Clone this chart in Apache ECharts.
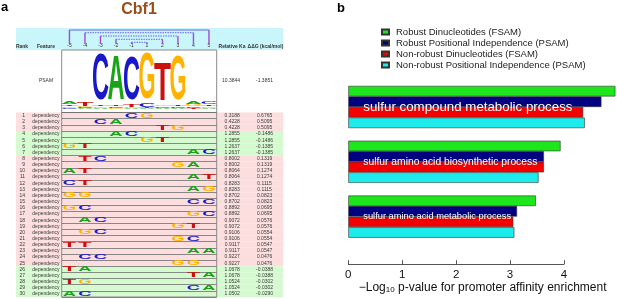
<!DOCTYPE html>
<html>
<head>
<meta charset="utf-8">
<script src="https://cdn.jsdelivr.net/npm/echarts@6/dist/echarts.min.js"></script>
<style>
html, body { margin: 0; padding: 0; background: #fff; }
#chart { width: 617px; height: 299px; }
</style>
</head>
<body>
<div id="chart"></div>
<script>
// ---------- panel a : Cbf1 model ----------
const positions = ['-5', '-4', '-3', '-2', '-1', '1', '2', '3', '4', '5'];
const ranks = ['1', '2', '3', '4', '5', '6', '7', '8', '9', '10', '11', '12', '13', '14', '15',
    '16', '17', '18', '19', '20', '21', '22', '23', '24', '25', '26', '27', '28', '29', '30'];
const featureName = 'dependency';
const dinucleotides = ['CG', 'CA', 'TG', 'AC', 'GT', 'GT', 'AC', 'TC', 'GA', 'AT', 'AT', 'CT', 'AG', 'GG', 'CC',
    'GC', 'GC', 'AC', 'GT', 'GC', 'GC', 'TT', 'AA', 'CC', 'GG', 'TA', 'TA', 'TG', 'CA', 'AC'];
const firstPosition = ['-1', '-3', '2', '-2', '1', '-5', '4', '-4', '3', '-5', '4', '-5', '4', '-5', '4',
    '-5', '4', '-4', '3', '-4', '3', '-5', '4', '-4', '3', '-5', '4', '-5', '4', '-5'];
const relativeKa = [0.3188, 0.4228, 0.4228, 1.2855, 1.2855, 1.2637, 1.2637, 0.8002, 0.8002, 0.8064,
    0.8064, 0.8283, 0.8283, 0.8702, 0.8702, 0.8892, 0.8892, 0.9072, 0.9072, 0.9106,
    0.9106, 0.9117, 0.9117, 0.9227, 0.9227, 1.0678, 1.0678, 1.0524, 1.0524, 1.0502];
const ddG = [0.6765, 0.5095, 0.5095, -0.1486, -0.1486, -0.1385, -0.1385, 0.1319, 0.1319, 0.1274,
    0.1274, 0.1115, 0.1115, 0.0823, 0.0823, 0.0695, 0.0695, 0.0576, 0.0576, 0.0554,
    0.0554, 0.0547, 0.0547, 0.0476, 0.0476, -0.0388, -0.0388, -0.0302, -0.0302, -0.0290];
const psamKa = 10.3844;
const psamDdG = -1.3851;
// PSAM logo letter heights per position
const logoA = [0.04, 0.02, 0.03, 0.76, 0.02, 0.02, 0.03, 0.03, 0.05, 0.03];
const logoC = [0.03, 0.02, 0.79, 0.03, 0.74, 0.06, 0.03, 0.03, 0.03, 0.04];
const logoG = [0.03, 0.02, 0.03, 0.02, 0.02, 0.79, 0.03, 0.77, 0.04, 0.03];
const logoT = [0.03, 0.06, 0.03, 0.03, 0.05, 0.02, 0.65, 0.03, 0.02, 0.03];
// interaction brackets above the logo
const bracketLeft = ['-5', '-4', '-3', '-2', '-1'];
const bracketRight = ['5', '4', '3', '2', '1'];
const bracketLevel = [2, 4.7, 8, 11.3, 14.3];
const bracketFoot = 16;

// ---------- panel b : enrichment ----------
const goTerms = ['sulfur compound metabolic process', 'sulfur amino acid biosynthetic process', 'sulfur amino acid metabolic process'];
const robustDinuc = [4.97, 3.95, 3.49];
const robustPos = [4.71, 3.64, 3.14];
const nonRobustDinuc = [4.37, 3.64, 3.07];
const nonRobustPos = [4.40, 3.54, 3.09];
const xTicks = [0, 1, 2, 3, 4];

const FONT = '"Liberation Sans", Arial, sans-serif';
const letterColor = { A: '#17a517', C: '#1818c8', G: '#ffb300', T: '#cc1010' };
const GLYPH_FONT = 'bold 100px "Liberation Sans"';
const mctx = document.createElement('canvas').getContext('2d');
mctx.font = GLYPH_FONT;
const glyphW = {};
'ACGT'.split('').forEach(l => { glyphW[l] = mctx.measureText(l).width; });
const CAP = 72;

function glyph(letter, cx, cy, w, h) {
    return {
        type: 'text', x: cx, y: cy,
        scaleX: w / glyphW[letter], scaleY: h / CAP,
        style: { text: letter, font: GLYPH_FONT, fill: letterColor[letter], align: 'center', verticalAlign: 'middle' },
    };
}

// dependency letters
const depData = [];
dinucleotides.forEach((d, r) => {
    const i = positions.indexOf(firstPosition[r]);
    depData.push([i, r, 0]);
    depData.push([i + 1, r, 1]);
});

// psam stacks
const logoData = [];
positions.forEach((p, i) => {
    const stack = [['A', logoA[i]], ['C', logoC[i]], ['G', logoG[i]], ['T', logoT[i]]].sort((a, b) => a[1] - b[1]);
    let y = 0;
    stack.forEach(s => {
        logoData.push([i, y, y + s[1], 'ACGT'.indexOf(s[0])]);
        y += s[1];
    });
});

const pink = '#fcdede';
const green = '#d6fad0';
const tableCols = { rank: 0.034, feature: 0.112, ka: 0.809, ddg: 0.93 };

const hiddenValue = (gi, extra) => Object.assign({ type: 'value', gridIndex: gi, show: false, min: 0, max: 1 }, extra || {});
const headText = (x, y, s, font) => ({
    type: 'text', x: x, y: y,
    style: { text: s, font: font, fill: '#333', align: 'center', verticalAlign: 'middle' },
});

const chart = echarts.init(document.getElementById('chart'));
const option = {
    animation: false,
    textStyle: { fontFamily: FONT },
    grid: [
        { left: 16, top: 28, width: 267.3, height: 22, show: true, backgroundColor: '#c9f6fb', borderWidth: 0 },
        { left: 61.7, top: 28, width: 155, height: 22 },
        { left: 61.7, top: 50, width: 155, height: 62.5, show: true, borderColor: '#8a8a8a', borderWidth: 1, z: 3 },
        { left: 16, top: 112.5, width: 267.3, height: 184.5 },
        { left: 61.7, top: 112.5, width: 155, height: 184.5, show: true, borderColor: '#8a8a8a', borderWidth: 1, z: 3 },
        { left: 348.3, top: 79.6, width: 269.5, height: 168.6 },
        { left: 348.3, top: 79.6, width: 215.6, height: 168.6 },
    ],
    legend: {
        left: 381, top: 27, orient: 'vertical', itemWidth: 7, itemHeight: 5, itemGap: 1, padding: 0,
        icon: 'rect',
        textStyle: { fontSize: 9.5, color: '#222', fontFamily: FONT, padding: [0, 0, 0, 2] },
        data: ['Robust Dinucleotides (FSAM)', 'Robust Positional Independence (PSAM)', 'Non-robust Dinucleotides (FSAM)', 'Non-robust Positional Independence (PSAM)'],
    },
    xAxis: [
        hiddenValue(0),
        {
            type: 'category', gridIndex: 1, data: positions, position: 'bottom',
            axisLine: { show: false }, axisTick: { show: false }, splitLine: { show: false },
            axisLabel: { inside: true, margin: 2, fontSize: 5, color: '#333', interval: 0 },
        },
        { type: 'category', gridIndex: 2, data: positions, show: false },
        hiddenValue(3),
        { type: 'category', gridIndex: 4, data: positions, show: false },
        {
            type: 'value', gridIndex: 5, min: 0, max: 5, offset: 16,
            axisLine: { show: false }, axisTick: { show: false }, axisLabel: { show: false }, splitLine: { show: false },
            name: '\u2212Log{s|10} p-value for promoter affinity enrichment',
            nameLocation: 'middle', nameGap: 21,
            nameTextStyle: {
                fontSize: 12, color: '#111', fontFamily: FONT,
                rich: { s: { fontSize: 8, color: '#111', fontFamily: FONT, padding: [5, 0, 0, 0] } },
            },
        },
        {
            type: 'value', gridIndex: 6, min: 0, max: 4, interval: 1, offset: 16,
            axisLine: { show: true, lineStyle: { color: '#555', width: 1 } },
            axisTick: { show: true, inside: true, length: 4, lineStyle: { color: '#555' } },
            axisLabel: { margin: 5, fontSize: 11.5, color: '#111', formatter: v => xTicks.includes(v) ? String(v) : '' },
            splitLine: { show: false },
        },
    ],
    yAxis: [
        hiddenValue(0),
        hiddenValue(1, { min: 0, max: 22, inverse: true }),
        hiddenValue(2, { min: -0.05, max: 1 }),
        { type: 'category', gridIndex: 3, data: ranks, inverse: true, show: false },
        {
            type: 'category', gridIndex: 4, data: ranks, inverse: true, z: 3,
            axisLine: { show: false }, axisTick: { show: false }, axisLabel: { show: false },
            splitLine: { show: true, interval: 0, lineStyle: { color: '#6f6f6f', width: 0.8 } },
        },
        {
            type: 'category', gridIndex: 5, data: goTerms, inverse: true, z: 10,
            axisLine: { show: false }, axisTick: { show: false }, splitLine: { show: false },
            axisLabel: {
                inside: true, margin: 15, interval: 0, color: '#fff',
                formatter: (v, i) => '{g' + i + '|' + v + '}',
                rich: {
                    g0: { fontSize: 13.3, color: '#fff', fontFamily: FONT },
                    g1: { fontSize: 10.3, color: '#fff', fontFamily: FONT },
                    g2: { fontSize: 9.3, color: '#fff', fontFamily: FONT },
                },
            },
        },
        { type: 'category', gridIndex: 6, data: goTerms, inverse: true, show: false },
    ],
    series: [
        // row backgrounds
        {
            type: 'bar', xAxisIndex: 3, yAxisIndex: 3, silent: true, z: 1,
            barCategoryGap: '0%',
            data: relativeKa.map(v => ({ value: 1, itemStyle: { color: v > 1 ? green : pink } })),
        },
        // table texts
        {
            type: 'custom', xAxisIndex: 3, yAxisIndex: 3, silent: true, z: 4,
            data: ranks.map((r, i) => [0, i]),
            renderItem: (params, api) => {
                const r = api.value(1);
                const txt = (key, s, align) => {
                    const c = api.coord([tableCols[key], r]);
                    return {
                        type: 'text', x: c[0], y: c[1],
                        style: { text: s, fontSize: 5, fontFamily: FONT, fill: '#3a3a3a', align: align, verticalAlign: 'middle' },
                    };
                };
                return {
                    type: 'group',
                    children: [
                        txt('rank', ranks[r], 'right'),
                        txt('feature', featureName, 'center'),
                        txt('ka', relativeKa[r].toFixed(4), 'center'),
                        txt('ddg', ddG[r].toFixed(4), 'center'),
                    ],
                };
            },
        },
        // dependency letters
        {
            type: 'custom', xAxisIndex: 4, yAxisIndex: 4, silent: true, z: 5,
            data: depData,
            renderItem: (params, api) => {
                const r = api.value(1);
                const letter = dinucleotides[r][api.value(2)];
                const c = api.coord([api.value(0), r]);
                const sz = api.size([1, 1]);
                return glyph(letter, c[0], c[1], sz[0] * 0.86, sz[1] * 0.82);
            },
        },
        // psam logo
        {
            type: 'custom', xAxisIndex: 2, yAxisIndex: 2, silent: true, z: 5,
            data: logoData,
            renderItem: (params, api) => {
                const p = api.value(0);
                const top = api.coord([p, api.value(2)]);
                const bot = api.coord([p, api.value(1)]);
                const bw = api.size([1, 0])[0];
                const letter = 'ACGT'[api.value(3)];
                return glyph(letter, top[0], (top[1] + bot[1]) / 2, bw * 1.1, bot[1] - top[1]);
            },
        },
        // brackets
        {
            type: 'custom', xAxisIndex: 1, yAxisIndex: 1, silent: true, z: 5,
            data: bracketLeft.map((l, i) => [positions.indexOf(l), positions.indexOf(bracketRight[i]), bracketLevel[i]]),
            renderItem: (params, api) => {
                const a = api.coord([api.value(0), api.value(2)]);
                const b = api.coord([api.value(1), api.value(2)]);
                const fa = api.coord([api.value(0), bracketFoot]);
                const fb = api.coord([api.value(1), bracketFoot]);
                const dashed = params.dataIndex > 0;
                return {
                    type: 'group',
                    children: [
                        { type: 'line', shape: { x1: a[0], y1: a[1], x2: b[0], y2: b[1] },
                          style: { stroke: '#6b63e8', lineWidth: 1, lineDash: dashed ? [1.5, 1] : null } },
                        { type: 'line', shape: { x1: a[0], y1: a[1], x2: fa[0], y2: fa[1] },
                          style: { stroke: '#a24ad8', lineWidth: 1.4 } },
                        { type: 'line', shape: { x1: b[0], y1: b[1], x2: fb[0], y2: fb[1] },
                          style: { stroke: '#a24ad8', lineWidth: 1.4 } },
                    ],
                };
            },
        },
        // panel b bars
        {
            name: 'Robust Dinucleotides (FSAM)', type: 'bar', xAxisIndex: 5, yAxisIndex: 5,
            barGap: '0%', barCategoryGap: '23%', data: robustDinuc,
            itemStyle: { color: '#1de61d', borderColor: '#333', borderWidth: 0.6 },
        },
        {
            name: 'Robust Positional Independence (PSAM)', type: 'bar', xAxisIndex: 5, yAxisIndex: 5,
            barGap: '0%', barCategoryGap: '23%', data: robustPos,
            itemStyle: { color: '#000080', borderColor: '#333', borderWidth: 0.6 },
        },
        {
            name: 'Non-robust Dinucleotides (FSAM)', type: 'bar', xAxisIndex: 5, yAxisIndex: 5,
            barGap: '0%', barCategoryGap: '23%', data: nonRobustDinuc,
            itemStyle: { color: '#f40000', borderColor: '#333', borderWidth: 0.6 },
        },
        {
            name: 'Non-robust Positional Independence (PSAM)', type: 'bar', xAxisIndex: 5, yAxisIndex: 5,
            barGap: '0%', barCategoryGap: '23%', data: nonRobustPos,
            itemStyle: { color: '#1eecec', borderColor: '#333', borderWidth: 0.6 },
        },
    ],
    graphic: [
        { type: 'text', left: 1, top: 1, style: { text: 'a', font: 'bold 13px ' + FONT, fill: '#000' } },
        { type: 'text', left: 337, top: 2, style: { text: 'b', font: 'bold 13px ' + FONT, fill: '#000' } },
        { type: 'text', x: 139, y: 10, style: { text: 'Cbf1', font: 'bold 16px ' + FONT, fill: '#9a4e1c', align: 'center', verticalAlign: 'middle' } },
        headText(22, 46.7, 'Rank', 'bold 5px ' + FONT),
        headText(46, 46.7, 'Feature', 'bold 5px ' + FONT),
        headText(232, 46.7, 'Relative Ka', 'bold 5px ' + FONT),
        headText(265.5, 46.7, '\u0394\u0394G (kcal/mol)', 'bold 5px ' + FONT),
        headText(46, 80.7, 'PSAM', '5px ' + FONT),
        headText(231, 80.7, psamKa.toFixed(4), '5px ' + FONT),
        headText(264.5, 80.7, psamDdG.toFixed(4), '5px ' + FONT),
    ],
};
chart.setOption(option);
</script>
</body>
</html>
